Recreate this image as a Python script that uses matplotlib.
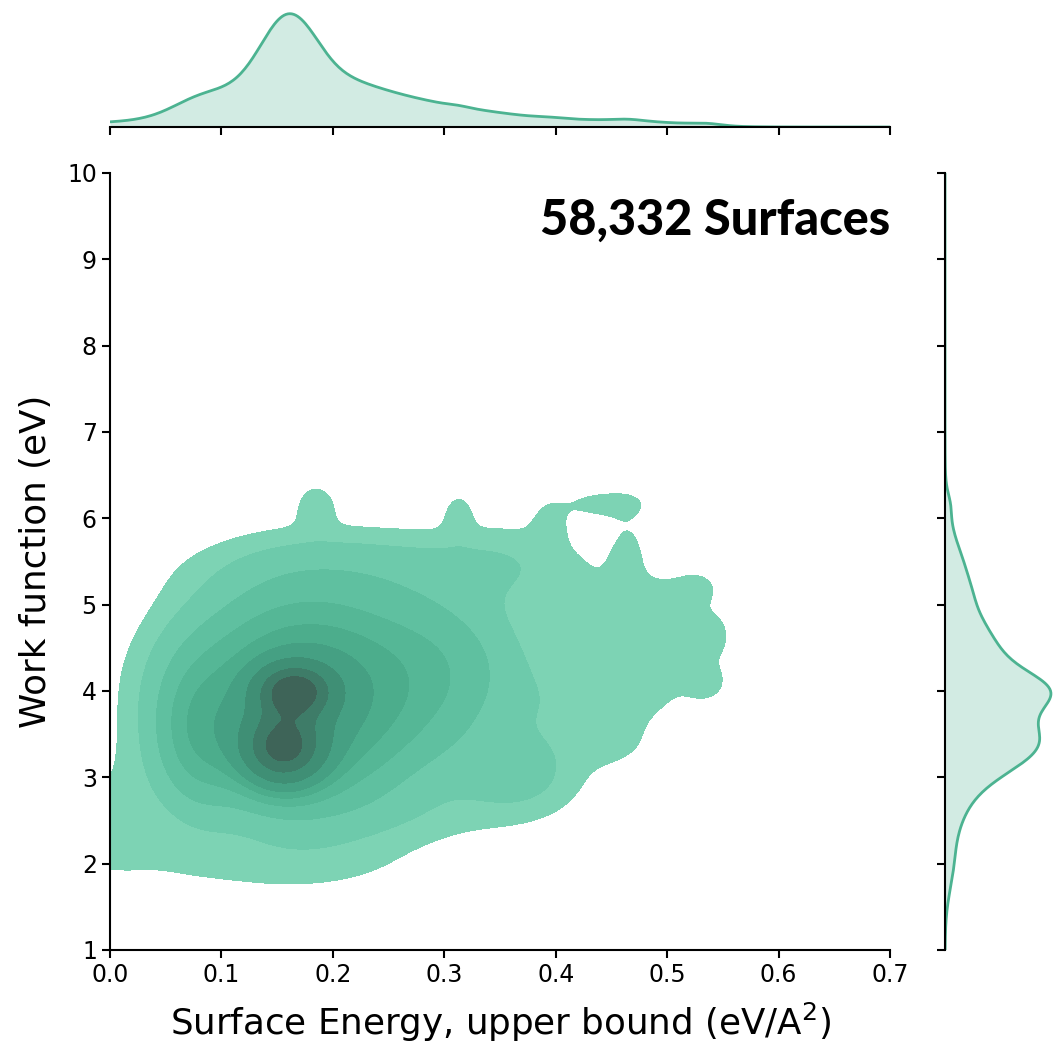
import numpy as np
import matplotlib.pyplot as plt

# gaussian components of the surface energy / work function density
comp_x  = [0.165, 0.155, 0.170, 0.190, 0.080, 0.130, -0.010, 0.300, 0.370, 0.490,
           0.430, 0.455, 0.240, 0.465, 0.360, 0.420, 0.280,
           0.185, 0.313, 0.445, 0.395, 0.527, 0.495, 0.540, 0.535]
comp_y  = [4.00, 3.34, 3.82, 4.00, 3.50, 1.95, 2.55, 4.30, 3.00, 4.50,
           3.85, 3.35, 5.45, 5.60, 5.55, 5.10, 2.55,
           6.15, 6.05, 6.17, 5.95, 5.20, 5.10, 4.65, 4.10]
comp_sx = [0.022, 0.024, 0.055, 0.085, 0.025, 0.130, 0.045, 0.050, 0.040, 0.040,
           0.040, 0.025, 0.110, 0.013, 0.045, 0.030, 0.060,
           0.012, 0.009, 0.028, 0.012, 0.014, 0.020, 0.012, 0.012]
comp_sy = [0.20, 0.28, 0.75, 0.80, 0.55, 0.30, 0.55, 0.60, 0.35, 0.50,
           0.40, 0.20, 0.30, 0.40, 0.35, 0.35, 0.25,
           0.18, 0.18, 0.12, 0.20, 0.14, 0.15, 0.20, 0.14]
comp_w  = [0.0048, 0.0075, 0.0125, 0.0190, 0.0026, 0.0011, 0.0008, 0.0030, 0.0010, 0.0011,
           0.0008, 0.0001, 0.0015, 0.00018, 0.0005, 0.0002, 0.0003,
           0.00011, 0.00007, 0.00016, 0.00008, 0.00007, 0.00008, 0.00008, 0.00007]

title_text = '58,332 Surfaces'
xlabel = 'Surface Energy, upper bound (eV/A$^2$)'
ylabel = 'Work function (eV)'
xticks = [0.0, 0.1, 0.2, 0.3, 0.4, 0.5, 0.6, 0.7]
yticks = [1, 2, 3, 4, 5, 6, 7, 8, 9, 10]

base_color = '#4CB391'
band_colors = ['#7dd3b4', '#6dcaab', '#5fc0a0', '#55b796', '#4cad8c',
               '#45a083', '#3f8f75', '#3e7c68', '#3e6458']


def density2d(gx, gy):
    z = np.zeros_like(gx)
    for mx, my, sx, sy, w in zip(comp_x, comp_y, comp_sx, comp_sy, comp_w):
        z += w / (2 * np.pi * sx * sy) * np.exp(-0.5 * (((gx - mx) / sx) ** 2 + ((gy - my) / sy) ** 2))
    return z


def density1d(v, means, sds):
    d = np.zeros_like(v)
    for m, s, w in zip(means, sds, comp_w):
        d += w / (np.sqrt(2 * np.pi) * s) * np.exp(-0.5 * ((v - m) / s) ** 2)
    return d


def iso_levels(z, props):
    vals = np.sort(z.ravel())
    cum = np.cumsum(vals)
    cum /= cum[-1]
    return np.interp(props, cum, vals)


gx, gy = np.meshgrid(np.linspace(-0.2, 0.9, 550), np.linspace(-0.5, 10, 550))
z = density2d(gx, gy)
levels = iso_levels(z, np.linspace(0.05, 1, 10))
levels[-1] = z.max() * 1.01

fig = plt.figure(figsize=(10.56, 10.43), dpi=100)
ax = fig.add_axes([0.1042, 0.0892, 0.7386, 0.745])
ax_top = fig.add_axes([0.1042, 0.8782, 0.7386, 0.1141], sharex=ax)
ax_right = fig.add_axes([0.8949, 0.0892, 0.1023, 0.745], sharey=ax)

ax.contourf(gx, gy, z, levels=levels, colors=band_colors)
ax.set_xlim(0, 0.7)
ax.set_ylim(1, 10)
ax.set_xticks(xticks)
ax.set_yticks(yticks)
ax.set_xlabel(xlabel, fontsize=25.7, labelpad=10)
ax.set_ylabel(ylabel, fontsize=25.7, labelpad=10)
ax.tick_params(labelsize=17, length=6, width=1.5)
for side in ['top', 'right']:
    ax.spines[side].set_visible(False)
for side in ['left', 'bottom']:
    ax.spines[side].set_linewidth(1.5)

ax.text(1.0, 0.92, title_text, transform=ax.transAxes, ha='right', va='baseline',
        fontsize=35, family='Lato', fontweight='black')

# marginal distributions
xs = np.linspace(0, 0.7, 400)
px = density1d(xs, comp_x, comp_sx)
ax_top.fill_between(xs, 0, px, color=base_color, alpha=0.25, lw=0)
ax_top.plot(xs, px, color=base_color, lw=2)
ax_top.set_ylim(0, px.max() * 1.05)

ys = np.linspace(1, 10, 400)
py = density1d(ys, comp_y, comp_sy)
ax_right.fill_betweenx(ys, 0, py, color=base_color, alpha=0.25, lw=0)
ax_right.plot(py, ys, color=base_color, lw=2)
ax_right.set_xlim(0, py.max() * 1.02)

ax_top.tick_params(axis='x', labelbottom=False, length=6, width=1.5)
ax_top.tick_params(axis='y', left=False, labelleft=False)
for side in ['top', 'right', 'left']:
    ax_top.spines[side].set_visible(False)
ax_top.spines['bottom'].set_linewidth(1.5)

ax_right.tick_params(axis='y', labelleft=False, length=6, width=1.5)
ax_right.tick_params(axis='x', bottom=False, labelbottom=False)
for side in ['top', 'right', 'bottom']:
    ax_right.spines[side].set_visible(False)
ax_right.spines['left'].set_linewidth(1.5)

fig.savefig('out.png', dpi=100, facecolor='white')
